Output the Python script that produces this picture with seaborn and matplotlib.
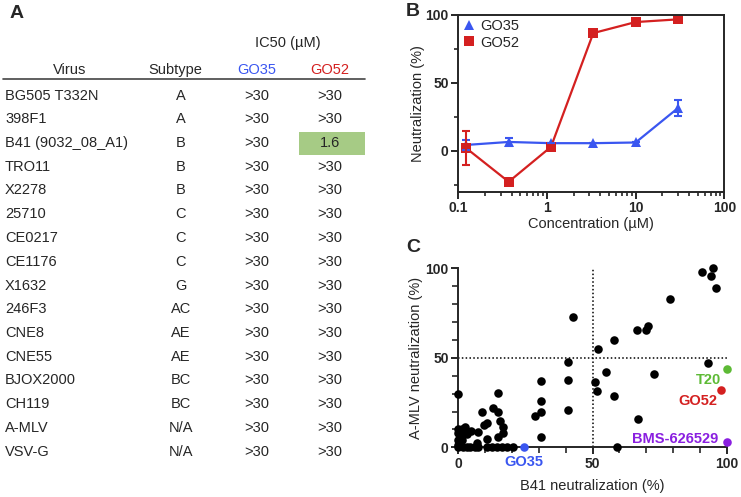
import numpy as np
import pandas as pd
import matplotlib
matplotlib.use("Agg")
import matplotlib.pyplot as plt
import seaborn as sns
from matplotlib.ticker import FixedLocator, MultipleLocator, LogLocator, NullFormatter

# ---- Panel A: IC50 table ----
viruses = ["BG505 T332N", "398F1", "B41 (9032_08_A1)", "TRO11", "X2278", "25710",
           "CE0217", "CE1176", "X1632", "246F3", "CNE8", "CNE55", "BJOX2000",
           "CH119", "A-MLV", "VSV-G"]
subtypes = ["A", "A", "B", "B", "B", "C", "C", "C", "G", "AC", "AE", "AE", "BC",
            "BC", "N/A", "N/A"]
ic50_go35 = [">30"] * 16
ic50_go52 = [">30", ">30", "1.6"] + [">30"] * 13

# ---- Panel B: dose response ----
conc = [0.123, 0.37, 1.11, 3.33, 10, 30]
go35_mean = [4.4, 6.6, 5.7, 5.7, 6.2, 31.5]
go35_err = [3.5, 3.0, 0.0, 0.0, 0.0, 6.0]
go52_mean = [2.0, -22.7, 3.0, 86.7, 94.8, 96.8]
go52_err = [12.5, 0.0, 0.0, 0.0, 0.0, 0.0]

# ---- Panel C: B41 vs A-MLV neutralization ----
b41_x = [90.9, 95, 94, 96, 78.9, 66.7, 69.8, 70.8, 57.9, 51.9, 42.7, 40.9, 40.9, 40.9,
         30.8, 30.8, 30.8, 28.7, 30.8, 50.8, 51.8, 54.9, 57.9, 59, 67, 73, 93.2,
         0, 14.7, 8.7, 12.8, 14.7, 15.5, 10.6, 9.7, 16.8, 16.8, 7.5, 4.7, 3.1, 1.2,
         1.2, 0, 0, 0, 1.2, 6.8, 10.6, 14.7, 2.5, 0,
         0, 1.9, 3.1, 4.3, 6.2, 7.5, 10.6, 12.4, 14.3, 16.1, 18, 20.2]
amlv_y = [97.9, 100, 95.9, 88.8, 82.9, 65.7, 65.7, 67.8, 60, 54.7, 72.8, 47.9, 37.8, 20.7,
          36.9, 25.7, 19.7, 17.7, 5.8, 36.7, 31.7, 41.9, 28.7, 0, 15.8, 40.8, 46.9,
          29.8, 30.5, 19.7, 21.8, 19.7, 14.7, 13.6, 12.3, 11.5, 8.2, 8.8, 9.1, 7.3, 6.5,
          10.2, 10.2, 7.8, 4.1, 4.1, 2.6, 4.8, 6.0, 11.5, 1.5,
          0, 0, 0, 0, 0, 0, 0, 0, 0, 0, 0, 0]
hl_names = ["T20", "GO52", "BMS-626529", "GO35"]
hl_x = [100, 97.8, 100, 24.6]
hl_y = [43.9, 31.8, 2.8, 0]
hl_colors = ["#5dba35", "#d42020", "#8a1fe0", "#3a56f0"]

BLUE = "#3a56f0"
RED = "#d42020"

sns.set_style("ticks")
plt.rcParams["font.family"] = ["Liberation Sans", "DejaVu Sans"]
plt.rcParams["axes.linewidth"] = 1.4
plt.rcParams["xtick.major.width"] = 1.4
plt.rcParams["ytick.major.width"] = 1.4
plt.rcParams["xtick.minor.width"] = 1.2
plt.rcParams["ytick.minor.width"] = 1.2

W, H = 741, 497
fig = plt.figure(figsize=(W / 100, H / 100), dpi=100)

# ---------------- Panel A ----------------
FS = 10.5
axA = fig.add_axes([0, 0, 390 / W, 1])
axA.set_xlim(0, 390)
axA.set_ylim(H, 0)
axA.axis("off")
axA.text(10, 13, "A", fontsize=14, fontweight="bold", va="center", ha="left")
axA.text(288, 43, "IC50 (µM)", fontsize=FS, ha="center", va="center")
hdr_y = 70
axA.text(70, hdr_y, "Virus", fontsize=FS, ha="center", va="center")
axA.text(175, hdr_y, "Subtype", fontsize=FS, ha="center", va="center")
axA.text(257, hdr_y, "GO35", fontsize=FS, ha="center", va="center", color=BLUE)
axA.text(330, hdr_y, "GO52", fontsize=FS, ha="center", va="center", color=RED)
axA.plot([3, 365], [79, 79], color="#444444", lw=1.2)
row0, dy = 95.5, 23.75
for i, (v, s, a, b) in enumerate(zip(viruses, subtypes, ic50_go35, ic50_go52)):
    y = row0 + i * dy
    if b != ">30":
        axA.add_patch(plt.Rectangle((299, y - 11.5), 66, 23.5, color="#a6cb85", lw=0))
    axA.text(5, y, v, fontsize=FS, ha="left", va="center")
    axA.text(181, y, s, fontsize=FS, ha="center", va="center")
    axA.text(257, y, a, fontsize=FS, ha="center", va="center")
    axA.text(330, y, b, fontsize=FS, ha="center", va="center")

# ---------------- Panel B ----------------
axB = fig.add_axes([458.3 / W, 1 - 191.7 / H, 266 / W, 176.7 / H])
dfB = pd.DataFrame({
    "conc": conc * 2,
    "value": go35_mean + go52_mean,
    "compound": ["GO35"] * 6 + ["GO52"] * 6,
})
sns.lineplot(data=dfB, x="conc", y="value", hue="compound", style="compound",
             markers={"GO35": "^", "GO52": "s"}, dashes=False,
             palette={"GO35": BLUE, "GO52": RED}, markersize=6.5, lw=1.6,
             markeredgewidth=0, ax=axB)
axB.errorbar(conc, go35_mean, yerr=go35_err, fmt="none", ecolor=BLUE, elinewidth=1.5,
             capsize=3, capthick=1.5)
axB.errorbar(conc, go52_mean, yerr=go52_err, fmt="none", ecolor=RED, elinewidth=1.5,
             capsize=3, capthick=1.5)
axB.set_xscale("log")
axB.set_xlim(0.1, 100)
axB.set_ylim(-30, 100)
axB.set_xticks([0.1, 1, 10, 100])
axB.set_xticklabels(["0.1", "1", "10", "100"])
axB.xaxis.set_minor_locator(LogLocator(base=10, subs=np.arange(2, 10)))
axB.xaxis.set_minor_formatter(NullFormatter())
axB.set_yticks([0, 50, 100])
axB.yaxis.set_minor_locator(FixedLocator([-25, 25, 75]))
axB.tick_params(axis="both", which="major", length=5, labelsize=10, pad=2)
axB.tick_params(axis="both", which="minor", length=3)
for lab in axB.get_xticklabels() + axB.get_yticklabels():
    lab.set_fontweight("bold")
axB.set_xlabel("Concentration (µM)", fontsize=10.5, labelpad=1)
axB.set_ylabel("Neutralization (%)", fontsize=10.5, labelpad=0)
leg = axB.legend(loc="upper left", frameon=False, fontsize=10.5, handlelength=0.8,
                 handletextpad=0.4, borderaxespad=0.1, labelspacing=0.15,
                 borderpad=0.2)
for h in leg.legend_handles:
    h.set_linestyle("none")
fig.text(413 / W, 1 - 12 / H, "B", fontsize=14, fontweight="bold", ha="center", va="center")

# ---------------- Panel C ----------------
axC = fig.add_axes([458.3 / W, 1 - 447.3 / H, 268.4 / W, 179 / H])
dfC = pd.DataFrame({"b41": b41_x, "amlv": amlv_y})
sns.scatterplot(data=dfC, x="b41", y="amlv", color="black", s=38, linewidth=0,
                clip_on=False, zorder=3, ax=axC)
for name, x, y, c in zip(hl_names, hl_x, hl_y, hl_colors):
    axC.scatter([x], [y], color=c, s=38, linewidth=0, clip_on=False, zorder=4)
axC.text(98, 41.5, "T20", color=hl_colors[0], fontsize=10.5, fontweight="bold",
         ha="right", va="top")
axC.text(96.5, 29.5, "GO52", color=hl_colors[1], fontsize=10.5, fontweight="bold",
         ha="right", va="top")
axC.text(97, 4.5, "BMS-626529", color=hl_colors[2], fontsize=10.5, fontweight="bold",
         ha="right", va="center")
axC.text(24.6, -4.5, "GO35", color=hl_colors[3], fontsize=10.5, fontweight="bold",
         ha="center", va="top")
axC.axvline(50, color="black", ls=(0, (1, 1.5)), lw=1.1, zorder=1)
axC.axhline(50, color="black", ls=(0, (1, 1.5)), lw=1.1, zorder=1)
axC.set_xlim(0, 100)
axC.set_ylim(0, 100)
axC.set_xticks([0, 50, 100])
axC.set_yticks([0, 50, 100])
axC.xaxis.set_minor_locator(MultipleLocator(10))
axC.yaxis.set_minor_locator(MultipleLocator(10))
axC.tick_params(axis="both", which="major", length=5, labelsize=10, pad=2)
axC.tick_params(axis="both", which="minor", length=4)
for lab in axC.get_xticklabels() + axC.get_yticklabels():
    lab.set_fontweight("bold")
sns.despine(ax=axC)
axC.set_xlabel("B41 neutralization (%)", fontsize=10.5, labelpad=6)
axC.set_ylabel("A-MLV neutralization (%)", fontsize=10.5, labelpad=2)
fig.text(413 / W, 1 - 248 / H, "C", fontsize=14, fontweight="bold", ha="center", va="center")

fig.savefig("out.png", dpi=100)
